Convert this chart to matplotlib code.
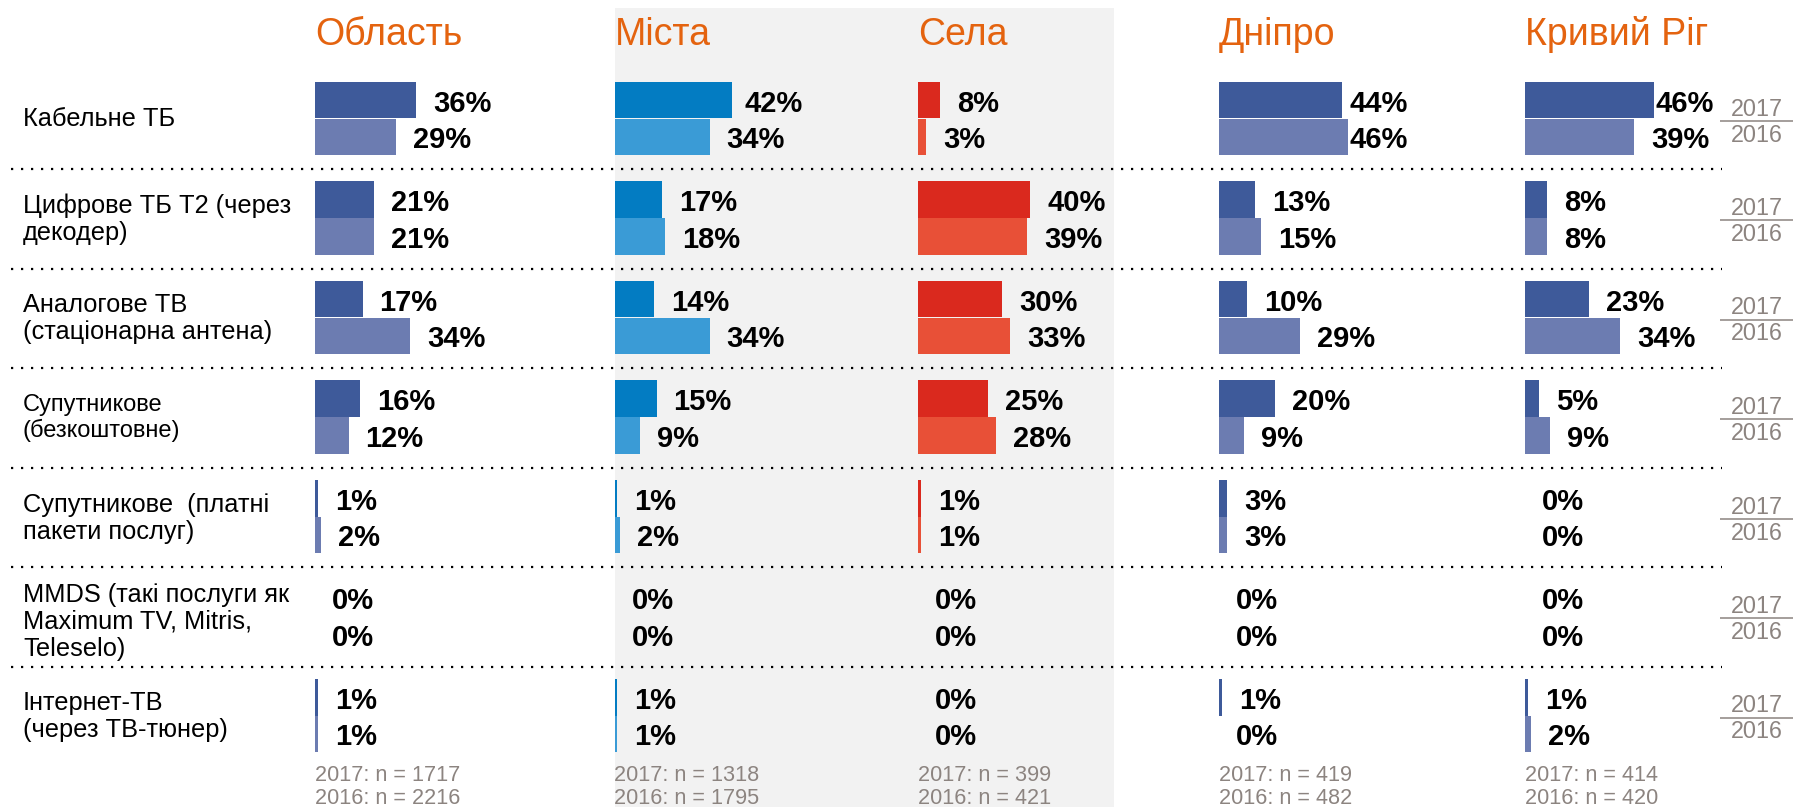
import matplotlib
matplotlib.use("Agg")
import matplotlib.pyplot as plt
from matplotlib.patches import Rectangle

plt.rcParams["font.family"] = ["Liberation Sans", "DejaVu Sans"]

# ---- data -------------------------------------------------------------
groups = ["Область", "Міста", "Села", "Дніпро", "Кривий Ріг"]
categories = [
    "Кабельне ТБ",
    "Цифрове ТБ Т2 (через\nдекодер)",
    "Аналогове ТВ\n(стаціонарна антена)",
    "Супутникове\n(безкоштовне)",
    "Супутникове  (платні\nпакети послуг)",
    "MMDS (такі послуги як\nMaximum TV, Mitris,\nTeleselo)",
    "Інтернет-ТВ\n(через ТВ-тюнер)",
]
years = ["2017", "2016"]

oblast_2017 = [36, 21, 17, 16, 1, 0, 1]
oblast_2016 = [29, 21, 34, 12, 2, 0, 1]
mista_2017 = [42, 17, 14, 15, 1, 0, 1]
mista_2016 = [34, 18, 34, 9, 2, 0, 1]
sela_2017 = [8, 40, 30, 25, 1, 0, 0]
sela_2016 = [3, 39, 33, 28, 1, 0, 0]
dnipro_2017 = [44, 13, 10, 20, 3, 0, 1]
dnipro_2016 = [46, 15, 29, 9, 3, 0, 0]
kryvyi_2017 = [46, 8, 23, 5, 0, 0, 1]
kryvyi_2016 = [39, 8, 34, 9, 0, 0, 2]

sample_2017 = [1717, 1318, 399, 419, 414]
sample_2016 = [2216, 1795, 421, 482, 420]

series = [
    (oblast_2017, oblast_2016),
    (mista_2017, mista_2016),
    (sela_2017, sela_2016),
    (dnipro_2017, dnipro_2016),
    (kryvyi_2017, kryvyi_2016),
]

# ---- styling ----------------------------------------------------------
NAVY = ("#3e5a9a", "#6c7cb1")
BLUE = ("#037cc2", "#3a9bd6")
RED = ("#da291e", "#e85037")
palette = [NAVY, BLUE, RED, NAVY, NAVY]
ORANGE = "#e4630f"
GREY_TXT = "#8c8480"
PANEL = "#f2f2f2"

W, H, DPI = 1793, 807, 100
col_left = [315, 614.5, 918, 1219, 1525]   # px
px_per_pct = 2.8
xmax = 70.0
row0, pitch = 118.5, 99.5                  # px
bar_h = 36.7 / pitch
label_gap = 17 / px_per_pct
label_cap = 130 / px_per_pct
label_nudge = [1, 1, 1, 1, 2, 6, 1]        # px, vertical offset of row labels


def fx(px):
    return px / W


def fy(px):
    return 1 - px / H


fig = plt.figure(figsize=(W / DPI, H / DPI), dpi=DPI)
fig.patch.set_facecolor("white")

# shaded panel behind the urban / rural columns
fig.add_artist(Rectangle((fx(614.5), 0), (1114 - 614.5) / W, fy(7.7),
                         transform=fig.transFigure, facecolor=PANEL,
                         edgecolor="none", zorder=-5))

n_rows = len(categories)
top_px = row0 - pitch / 2
bot_px = row0 + pitch * (n_rows - 0.5)
ax_bottom = fy(bot_px)
ax_height = (bot_px - top_px) / H

# frame axes: separators, row labels, year legend
bg = fig.add_axes([0, ax_bottom, 1, ax_height])
bg.set_xlim(0, W)
bg.set_ylim(n_rows - 0.5, -0.5)
bg.axis("off")
bg.patch.set_visible(False)

bg.hlines([i + 0.5 + 1 / pitch for i in range(n_rows - 1)], 11, 1722,
          colors="black", linestyles=(0, (1, 3.5)), linewidth=1.6)

for i, cat in enumerate(categories):
    size = 17 if i == 3 else 18.3
    bg.text(23, i + label_nudge[i] / pitch, cat, ha="left", va="center",
            fontsize=size, linespacing=1.17, color="black")
    yl = i + 2 / pitch
    bg.plot([1720, 1793], [yl, yl], color=GREY_TXT, linewidth=1.1,
            solid_capstyle="butt")
    bg.text(1756.5, yl - 5 / pitch, years[0], ha="center", va="baseline",
            fontsize=16.8, color=GREY_TXT)
    bg.text(1756.5, yl + 21 / pitch, years[1], ha="center", va="baseline",
            fontsize=16.8, color=GREY_TXT)

# one bar panel per group
for g, (name, (v17, v16), cols, left) in enumerate(
        zip(groups, series, palette, col_left)):
    ax = fig.add_axes([fx(left), ax_bottom, xmax * px_per_pct / W, ax_height])
    ax.set_xlim(0, xmax)
    ax.set_ylim(n_rows - 0.5, -0.5)
    ax.axis("off")
    ax.patch.set_visible(False)

    ys = list(range(n_rows))
    y17 = [y - bar_h / 2 for y in ys]
    y16 = [y + bar_h / 2 for y in ys]
    ax.barh(y17, v17, height=bar_h, color=cols[0], linewidth=0)
    ax.barh(y16, v16, height=bar_h, color=cols[1], linewidth=0)

    for yy, vals in ((y17, v17), (y16, v16)):
        for y, v in zip(yy, vals):
            ax.text(min(v + label_gap, label_cap), y + 0.5 / pitch, f"{v}%",
                    ha="left", va="center_baseline", fontsize=21,
                    fontweight="bold", color="black")

    fig.text(fx(left), fy(45), name, ha="left", va="baseline",
             fontsize=27, color=ORANGE)
    fig.text(fx(left), fy(780.7), f"2017: n = {sample_2017[g]}", ha="left",
             va="baseline", fontsize=15.6, color=GREY_TXT)
    fig.text(fx(left), fy(804), f"2016: n = {sample_2016[g]}", ha="left",
             va="baseline", fontsize=15.6, color=GREY_TXT)

fig.savefig("out.png", dpi=DPI, facecolor="white")
